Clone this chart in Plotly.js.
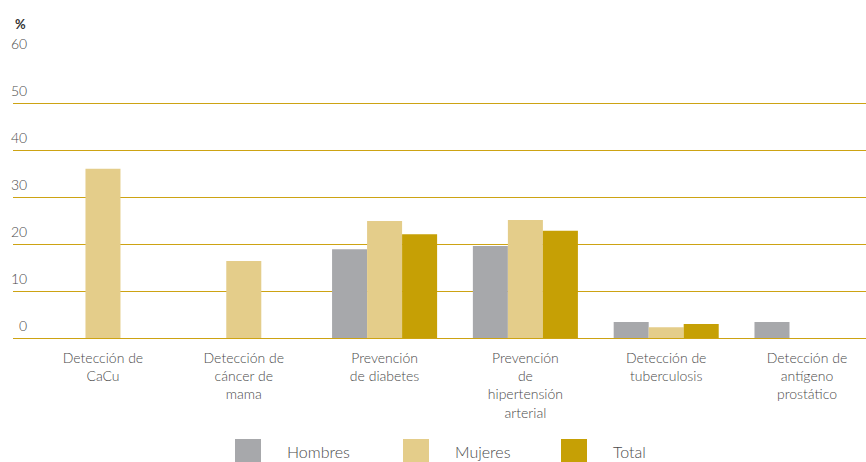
<!DOCTYPE html>
<html>
<head>
<meta charset="utf-8">
<script src="https://cdn.plot.ly/plotly-3.0.1.min.js"></script>
<style>html,body{margin:0;padding:0;background:#fff;}#chart{width:866px;height:462px;}</style>
</head>
<body>
<div id="chart"></div>
<script>
var categories = [
  "Detección de<br>CaCu",
  "Detección de<br>cáncer de<br>mama",
  "Prevención<br>de diabetes",
  "Prevención<br>de<br>hipertensión<br>arterial",
  "Detección de<br>tuberculosis",
  "Detección de<br>antígeno<br>prostático"
];
var hombres = [null, null, 18.9, 19.6, 3.4, 3.4];
var mujeres = [36.0, 16.4, 24.9, 25.1, 2.3, null];
var total   = [null, null, 22.1, 22.8, 3.0, null];
var seriesNames = ["Hombres", "Mujeres", "Total"];
var seriesColors = ["#A7A8AB", "#E4CD8A", "#C6A005"];
var yTicks = [0, 10, 20, 30, 40, 50, 60];

var fontFam = "Lato, 'Open Sans', sans-serif";
var txtColor = "#4a4a4a";
var idx = categories.map(function(_, i){ return i; });

var data = [hombres, mujeres, total].map(function(vals, k){
  return {
    type: "bar", x: idx, y: vals, name: seriesNames[k],
    marker: {color: seriesColors[k], line: {width: 0}},
    hoverinfo: "y+name", showlegend: false
  };
});

var annotations = yTicks.map(function(v){
  return {xref: "paper", yref: "y", x: 0, y: v, xanchor: "right", yanchor: "bottom",
          xshift: 16, yshift: 2, text: String(v), showarrow: false,
          font: {family: fontFam, size: 14, color: txtColor, weight: 300}};
});
annotations.push({xref: "paper", yref: "paper", x: 0, y: 1, xanchor: "left", yanchor: "bottom",
  xshift: 0, yshift: 22, text: "<b>%</b>", showarrow: false,
  font: {family: fontFam, size: 13, color: "#333333"}});

// custom legend (large swatches)
var legX = [235, 403, 561];
var shapes = [];
seriesNames.forEach(function(n, k){
  shapes.push({type: "rect", xref: "paper", yref: "paper",
    x0: (legX[k] - 13) / 853, x1: (legX[k] + 26 - 13) / 853,
    y0: (338 - 462) / 282, y1: (338 - 439) / 282,
    fillcolor: seriesColors[k], line: {width: 0}});
  annotations.push({xref: "paper", yref: "paper", x: (legX[k] + 50 - 13) / 853,
    y: (338 - 451) / 282, xanchor: "left", yanchor: "middle", text: n, showarrow: false,
    font: {family: fontFam, size: 16, color: txtColor, weight: 300}});
});

var layout = {
  width: 866, height: 462,
  margin: {l: 13, r: 0, t: 56, b: 124, pad: 0},
  paper_bgcolor: "#ffffff", plot_bgcolor: "#ffffff",
  barmode: "group", bargap: 0.254, bargroupgap: 0,
  showlegend: false,
  xaxis: {
    range: [-0.639, 5.419], tickmode: "array", tickvals: idx, ticktext: categories,
    showgrid: false, zeroline: false, showline: false, ticks: "",
    ticklabelstandoff: 10,
    tickfont: {family: fontFam, size: 14, color: txtColor, weight: 300},
    fixedrange: true
  },
  yaxis: {
    range: [0, 60], tickvals: yTicks, showticklabels: false,
    showgrid: true, gridcolor: "#CDA313", gridwidth: 1,
    zeroline: true, zerolinecolor: "#CDA313", zerolinewidth: 1,
    showline: false, ticks: "", fixedrange: true
  },
  annotations: annotations,
  shapes: shapes
};

Plotly.newPlot("chart", data, layout, {displayModeBar: false, staticPlot: true});
</script>
</body>
</html>
